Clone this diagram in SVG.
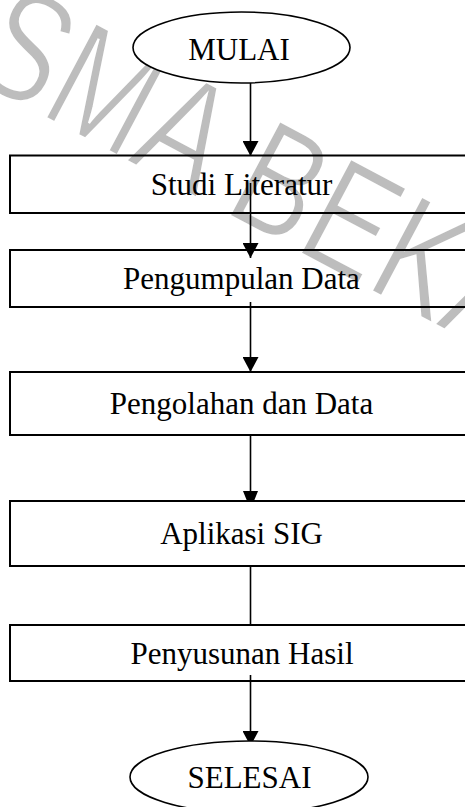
<svg xmlns="http://www.w3.org/2000/svg" width="465" height="807" viewBox="0 0 465 807">
<style>
.wm{font-family:"Liberation Sans","DejaVu Sans",sans-serif;font-size:142px;fill:#bdbdbd;stroke:#fff;stroke-width:2.5}
.box{fill:none;stroke:#000;stroke-width:2}
.term{fill:#fff;stroke:#000;stroke-width:1.6}
.lbl{font-family:"Liberation Serif","Times New Roman",serif;font-size:31px;fill:#000;text-anchor:middle}
.con{stroke:#000;stroke-width:1.6;fill:none}
</style>
<defs>
<marker id="ah" markerUnits="userSpaceOnUse" markerWidth="16" markerHeight="16" refX="15" refY="8" orient="auto" viewBox="0 0 16 16">
<path d="M0,0 L15,8 L0,16 z" fill="#000"/>
</marker>
</defs>
<rect width="465" height="807" fill="#fff"/>
<text class="wm" x="0" y="0" transform="translate(-34,75.5) rotate(28) scale(0.85,1.1)">SMA BEKASI</text>
<g id="connectors">
<line class="con" x1="250.5" y1="83" x2="250.5" y2="156" marker-end="url(#ah)"/>
<line class="con" x1="250.5" y1="183" x2="250.5" y2="258" marker-end="url(#ah)"/>
<line class="con" x1="250.5" y1="302" x2="250.5" y2="372" marker-end="url(#ah)"/>
<line class="con" x1="250.5" y1="435" x2="250.5" y2="495"/>
<polygon points="243,491 258,491 254,501 247,501" fill="#000"/>
<line class="con" x1="250.5" y1="566" x2="250.5" y2="624"/>
<line class="con" x1="250.5" y1="675" x2="250.5" y2="746" marker-end="url(#ah)"/>
</g>
<g id="mulai">
<ellipse class="term" cx="241.5" cy="47.5" rx="108.5" ry="35.5"/>
<text class="lbl" x="239" y="60">MULAI</text>
</g>
<g id="studi-literatur">
<rect class="box" x="10" y="155.5" width="470" height="57.5"/>
<text class="lbl" x="241.5" y="195">Studi Literatur</text>
</g>
<g id="pengumpulan-data">
<rect class="box" x="10" y="250" width="470" height="57"/>
<text class="lbl" x="241.5" y="289">Pengumpulan Data</text>
</g>
<g id="pengolahan-data">
<rect class="box" x="10" y="372" width="470" height="63"/>
<text class="lbl" x="241.5" y="414">Pengolahan dan Data</text>
</g>
<g id="aplikasi-sig">
<rect class="box" x="10" y="501" width="470" height="65"/>
<text class="lbl" x="241.5" y="544">Aplikasi SIG</text>
</g>
<g id="penyusunan-hasil">
<rect class="box" x="10" y="625" width="470" height="56"/>
<text class="lbl" x="242" y="664">Penyusunan Hasil</text>
</g>
<g id="selesai">
<ellipse class="term" cx="249" cy="777" rx="119" ry="36"/>
<text class="lbl" x="249.5" y="788">SELESAI</text>
</g>
</svg>
